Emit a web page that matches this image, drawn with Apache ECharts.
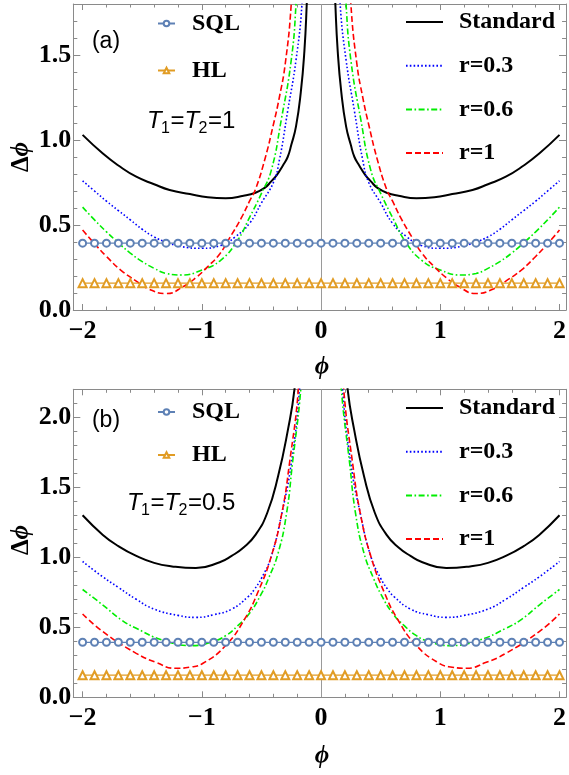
<!DOCTYPE html>
<html>
<head>
<meta charset="utf-8">
<script src="https://cdn.jsdelivr.net/npm/echarts@6/dist/echarts.min.js"></script>
<style>
html,body{margin:0;padding:0;background:#fff;}
#chart{width:569px;height:775px;}
</style>
</head>
<body>
<div id="chart"></div>
<script>
// ---------- tick values & labels ----------
const xMajor = [-2, -1, 0, 1, 2];
const xMajorLabels = ['\u22122', '\u22121', '0', '1', '2'];
const xMinor = [-1.8, -1.6, -1.4, -1.2, -0.8, -0.6, -0.4, -0.2, 0.2, 0.4, 0.6, 0.8, 1.2, 1.4, 1.6, 1.8];
const yMajorA = [0, 0.5, 1.0, 1.5];
const yMajorLabelsA = ['0.0', '0.5', '1.0', '1.5'];
const yMinorA = [0.1, 0.2, 0.3, 0.4, 0.6, 0.7, 0.8, 0.9, 1.1, 1.2, 1.3, 1.4, 1.6, 1.7];
const yMajorB = [0, 0.5, 1.0, 1.5, 2.0];
const yMajorLabelsB = ['0.0', '0.5', '1.0', '1.5', '2.0'];
const yMinorB = [0.1, 0.2, 0.3, 0.4, 0.6, 0.7, 0.8, 0.9, 1.1, 1.2, 1.3, 1.4, 1.6, 1.7, 1.8, 1.9, 2.1];

// ---------- marker positions for SQL / HL ----------
const markerX = [-2, -1.9, -1.8, -1.7, -1.6, -1.5, -1.4, -1.3, -1.2, -1.1, -1, -0.9, -0.8, -0.7, -0.6, -0.5, -0.4, -0.3, -0.2, -0.1, 0,
  0.1, 0.2, 0.3, 0.4, 0.5, 0.6, 0.7, 0.8, 0.9, 1, 1.1, 1.2, 1.3, 1.4, 1.5, 1.6, 1.7, 1.8, 1.9, 2];
const sqlValue = 0.393;
const hlValue = 0.158;

// ---------- panel (a) T1=T2=1 : right branch (phi>0), curves are symmetric in phi ----------
const stdA = [[0.105, 2.1], [0.12, 1.80], [0.14, 1.52], [0.17, 1.28], [0.21, 1.08], [0.25, 0.97], [0.28, 0.90], [0.32, 0.85], [0.37, 0.795], [0.42, 0.755], [0.47, 0.72], [0.55, 0.69], [0.65, 0.672], [0.8, 0.658], [0.95, 0.663], [1.1, 0.682], [1.27, 0.706], [1.4, 0.74], [1.55, 0.784], [1.7, 0.85], [1.83, 0.92], [2.0, 1.03]];
const r03A = [[0.145, 2.1], [0.16, 1.80], [0.21, 1.47], [0.28, 1.17], [0.35, 0.88], [0.4, 0.75], [0.5, 0.63], [0.6, 0.51], [0.72, 0.43], [0.84, 0.38], [1.0, 0.363], [1.17, 0.373], [1.3, 0.40], [1.4, 0.43], [1.5, 0.475], [1.6, 0.53], [1.7, 0.585], [1.8, 0.64], [1.9, 0.70], [2.0, 0.76]];
const r06A = [[0.195, 2.1], [0.21, 1.80], [0.25, 1.47], [0.334, 1.118], [0.418, 0.82], [0.5, 0.686], [0.61, 0.53], [0.7, 0.41], [0.84, 0.294], [1.0, 0.235], [1.17, 0.206], [1.3, 0.215], [1.4, 0.245], [1.5, 0.285], [1.6, 0.335], [1.7, 0.395], [1.8, 0.46], [1.9, 0.53], [2.0, 0.605]];
const r1A = [[0.235, 2.1], [0.25, 1.80], [0.3, 1.45], [0.35, 1.25], [0.4, 1.09], [0.47, 0.89], [0.55, 0.71], [0.6, 0.64], [0.67, 0.54], [0.77, 0.42], [0.85, 0.33], [0.95, 0.255], [1.05, 0.19], [1.15, 0.14], [1.3, 0.097], [1.45, 0.125], [1.55, 0.17], [1.68, 0.235], [1.8, 0.315], [1.9, 0.39], [2.0, 0.47]];

// ---------- panel (b) T1=T2=0.5 ----------
const stdB = [[0.205, 2.45], [0.223, 2.2], [0.278, 1.91], [0.36, 1.58], [0.45, 1.32], [0.55, 1.16], [0.65, 1.07], [0.75, 1.01], [0.85, 0.965], [1.05, 0.923], [1.25, 0.935], [1.4, 0.96], [1.55, 1.01], [1.7, 1.08], [1.83, 1.16], [2.0, 1.30]];
const r03B = [[0.165, 2.5], [0.18, 2.2], [0.25, 1.67], [0.33, 1.31], [0.42, 1.00], [0.5, 0.85], [0.56, 0.77], [0.61, 0.72], [0.75, 0.63], [0.9, 0.59], [1.05, 0.571], [1.2, 0.585], [1.4, 0.63], [1.55, 0.70], [1.7, 0.785], [1.83, 0.86], [2.0, 0.97]];
const r06B = [[0.155, 2.5], [0.17, 2.2], [0.24, 1.67], [0.29, 1.31], [0.36, 1.03], [0.44, 0.85], [0.5, 0.74], [0.6, 0.60], [0.7, 0.51], [0.8, 0.44], [0.9, 0.40], [1.08, 0.369], [1.33, 0.409], [1.55, 0.493], [1.67, 0.55], [1.83, 0.659], [2.0, 0.77]];
const r1B = [[0.175, 2.5], [0.19, 2.2], [0.265, 1.67], [0.33, 1.31], [0.42, 1.0], [0.53, 0.75], [0.64, 0.56], [0.8, 0.37], [0.99, 0.243], [1.1, 0.215], [1.22, 0.207], [1.38, 0.248], [1.55, 0.314], [1.83, 0.469], [2.0, 0.595]];

// ---------- styling ----------
const X_MIN = -2.078, X_MAX = 2.055;
const FRAME = '#8a8a8a';
const SERIF = '"Liberation Serif", "DejaVu Serif", serif';
const SANS = '"Liberation Sans", Arial, sans-serif';

function lookup(vals, labels) {
  return function (v) {
    const i = vals.findIndex(t => Math.abs(t - v) < 1e-9);
    return i >= 0 ? labels[i] : '';
  };
}

function xAxes(gi) {
  const base = { type: 'value', gridIndex: gi, min: X_MIN, max: X_MAX, splitLine: { show: false } };
  const line = { show: true, onZero: false, lineStyle: { color: FRAME, width: 1 } };
  return [
    Object.assign({}, base, {
      position: 'bottom', axisLine: line,
      axisTick: { show: true, inside: true, length: 6, customValues: xMajor, lineStyle: { color: FRAME } },
      axisLabel: { show: true, customValues: xMajor, formatter: lookup(xMajor, xMajorLabels), margin: 8,
        fontFamily: SERIF, fontSize: 26, fontWeight: 'bold', color: '#000' }
    }),
    Object.assign({}, base, {
      position: 'bottom', axisLine: { show: false, onZero: false },
      axisTick: { show: true, inside: true, length: 3.5, customValues: xMinor, lineStyle: { color: FRAME } },
      axisLabel: { show: false }
    }),
    Object.assign({}, base, {
      position: 'top', axisLine: line,
      axisTick: { show: true, inside: true, length: 6, customValues: xMajor, lineStyle: { color: FRAME } },
      axisLabel: { show: false }
    }),
    Object.assign({}, base, {
      position: 'top', axisLine: { show: false, onZero: false },
      axisTick: { show: true, inside: true, length: 3.5, customValues: xMinor, lineStyle: { color: FRAME } },
      axisLabel: { show: false }
    })
  ];
}

function yAxes(gi, max, major, labels, minor) {
  const base = { type: 'value', gridIndex: gi, min: 0, max: max, splitLine: { show: false } };
  const line = { show: true, onZero: false, lineStyle: { color: FRAME, width: 1 } };
  return [
    Object.assign({}, base, {
      position: 'left', axisLine: line,
      axisTick: { show: true, inside: true, length: 7, customValues: major, lineStyle: { color: FRAME } },
      axisLabel: { show: true, customValues: major, formatter: lookup(major, labels), margin: 2,
        fontFamily: SERIF, fontSize: 26, fontWeight: 'bold', color: '#000' }
    }),
    Object.assign({}, base, {
      position: 'left', axisLine: { show: false, onZero: false },
      axisTick: { show: true, inside: true, length: 4, customValues: minor, lineStyle: { color: FRAME } },
      axisLabel: { show: false }
    }),
    Object.assign({}, base, {
      position: 'right', axisLine: line,
      axisTick: { show: true, inside: true, length: 7, customValues: major, lineStyle: { color: FRAME } },
      axisLabel: { show: false }
    }),
    Object.assign({}, base, {
      position: 'right', axisLine: { show: false, onZero: false },
      axisTick: { show: true, inside: true, length: 4, customValues: minor, lineStyle: { color: FRAME } },
      axisLabel: { show: false }
    })
  ];
}

const curveStyles = {
  'Standard': { color: '#000000', width: 2, type: 'solid' },
  'r=0.3': { color: '#0000FF', width: 1.6, type: [1.6, 2.2] },
  'r=0.6': { color: '#00EE00', width: 1.6, type: [6, 2.5, 1.6, 2.5] },
  'r=1': { color: '#FF0000', width: 1.6, type: [6, 3] }
};

function mirror(pts) {
  return pts.map(p => [-p[0], p[1]]).reverse();
}

function curveSeries(name, pts, axIdx, withZeroLine) {
  const st = curveStyles[name];
  const common = {
    name: name, type: 'line', xAxisIndex: axIdx, yAxisIndex: axIdx,
    symbol: 'none', smooth: 0.5, clip: true,
    itemStyle: { color: st.color },
    lineStyle: { color: st.color, width: st.width, type: st.type },
    z: 3
  };
  const left = Object.assign({}, common, { data: mirror(pts) });
  if (withZeroLine) {
    left.markLine = {
      silent: true, symbol: 'none', label: { show: false },
      lineStyle: { color: '#9a9a9a', width: 1, type: 'solid' },
      data: [{ xAxis: 0 }]
    };
  }
  const right = Object.assign({}, common, { data: pts });
  return [left, right];
}

function markerSeries(name, value, axIdx) {
  const isSql = name === 'SQL';
  const color = isSql ? '#5E81B5' : '#E19C24';
  return {
    name: name, type: 'line', xAxisIndex: axIdx, yAxisIndex: axIdx,
    data: markerX.map(x => [x, value]),
    symbol: isSql ? 'emptyCircle' : 'emptyTriangle',
    symbolSize: isSql ? 7 : 8,
    showAllSymbol: true,
    itemStyle: { color: color, borderWidth: 1.3 },
    lineStyle: { color: color, width: 1.3 },
    z: 5
  };
}

function panelSeries(axIdx, sets) {
  let s = [];
  s = s.concat(curveSeries('Standard', sets[0], axIdx, true));
  s = s.concat(curveSeries('r=0.3', sets[1], axIdx, false));
  s = s.concat(curveSeries('r=0.6', sets[2], axIdx, false));
  s = s.concat(curveSeries('r=1', sets[3], axIdx, false));
  s.push(markerSeries('SQL', sqlValue, axIdx));
  s.push(markerSeries('HL', hlValue, axIdx));
  return s;
}

function legendLeft(top, gap) {
  return {
    left: 157, top: top, orient: 'vertical', padding: 0, itemGap: gap,
    itemWidth: 17, itemHeight: 7, data: ['SQL', 'HL'], selectedMode: false,
    textStyle: { fontFamily: SERIF, fontSize: 24, fontWeight: 'bold', color: '#000', lineHeight: 24, padding: [0, 0, 0, 12] }
  };
}
function legendRight(top, gap) {
  const noDot = { opacity: 0 };
  return {
    left: 405, top: top, orient: 'vertical', padding: 0, itemGap: gap,
    itemWidth: 37, itemHeight: 6,
    data: [
      { name: 'Standard', itemStyle: noDot },
      { name: 'r=0.3', itemStyle: noDot },
      { name: 'r=0.6', itemStyle: noDot },
      { name: 'r=1', itemStyle: noDot }
    ],
    selectedMode: false,
    textStyle: { fontFamily: SERIF, fontSize: 24, fontWeight: 'bold', color: '#000', lineHeight: 24, padding: [0, 0, 0, 11] }
  };
}

const phiRich = {
  d: { fontFamily: SERIF, fontSize: 25, fontWeight: 'bold', fill: '#000' },
  p: { fontFamily: SERIF, fontSize: 25, fontWeight: 'bold', fontStyle: 'italic', fill: '#000' }
};

// T1=T2=value label built from separate pieces (main text 24px, subscripts 16px)
function tLabel(x0, yc, valueText) {
  const main = (t, x, italic) => ({ type: 'text', x: x, y: yc, style: { text: t, fontFamily: SANS, fontSize: 24, fontStyle: italic ? 'italic' : 'normal', fill: '#000', align: 'left', verticalAlign: 'middle' } });
  const sub = (t, x) => ({ type: 'text', x: x, y: yc + 8, style: { text: t, fontFamily: SANS, fontSize: 16, fill: '#000', align: 'left', verticalAlign: 'middle' } });
  return [
    main('T', x0, true), sub('1', x0 + 14),
    main('=', x0 + 23.5, false),
    main('T', x0 + 37.5, true), sub('2', x0 + 51.5),
    main('=' + valueText, x0 + 61, false)
  ];
}

function texts(label, labelY, dphiY, phiY) {
  return [
    { type: 'text', x: 106, y: labelY, style: { text: label, fontFamily: SANS, fontSize: 23, fill: '#000', align: 'center', verticalAlign: 'middle' } },
    { type: 'text', x: 22, y: dphiY, rotation: Math.PI / 2, style: { text: '{d|\u0394}{p|\u03D5}', rich: phiRich, align: 'center', verticalAlign: 'middle' } },
    { type: 'text', x: 322, y: phiY, style: { text: '{p|\u03D5}', rich: phiRich, align: 'center', verticalAlign: 'middle' } }
  ];
}

const option = {
  animation: false,
  backgroundColor: '#fff',
  grid: [
    { left: 73.3, top: 4, width: 494.7, height: 306, containLabel: false },
    { left: 73.3, top: 389.3, width: 494.7, height: 308, containLabel: false }
  ],
  xAxis: xAxes(0).concat(xAxes(1)),
  yAxis: yAxes(0, 1.8, yMajorA, yMajorLabelsA, yMinorA).concat(yAxes(1, 2.2, yMajorB, yMajorLabelsB, yMinorB)),
  legend: [legendLeft(11.5, 23), legendRight(10, 19.7), legendLeft(400, 19), legendRight(396, 19.7)],
  series: panelSeries(0, [stdA, r03A, r06A, r1A]).concat(panelSeries(4, [stdB, r03B, r06B, r1B])),
  graphic: texts('(a)', 42, 157, 368)
    .concat(tLabel(147, 121, '1'))
    .concat(texts('(b)', 421, 540, 757))
    .concat(tLabel(127, 503, '0.5'))
};

const chart = echarts.init(document.getElementById('chart'), null, { renderer: 'canvas' });
chart.setOption(option);
</script>
</body>
</html>
